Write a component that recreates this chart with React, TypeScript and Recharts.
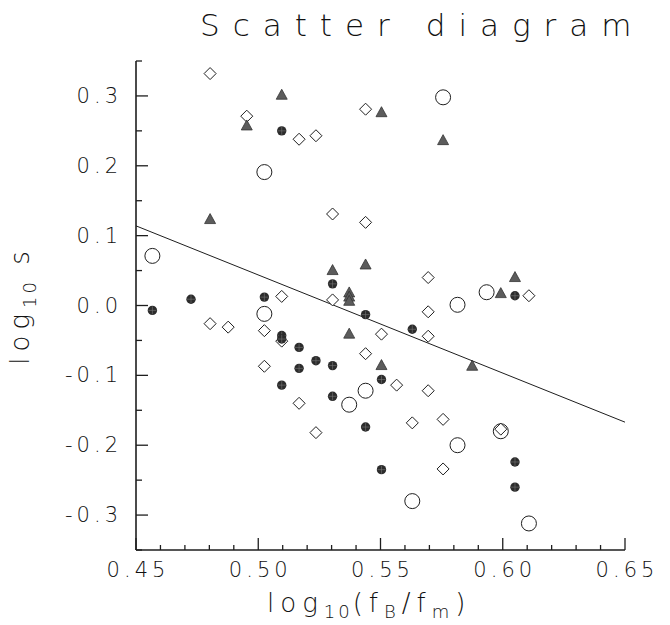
import React from 'react';
import { ScatterChart, Scatter, XAxis, YAxis } from 'recharts';

// log10(fB/fm) vs log10 s, four groups of points
const openCircles = [
  [0.4567, 0.071], [0.5025, 0.191], [0.5025, -0.012], [0.5756, 0.298],
  [0.5372, -0.142], [0.5439, -0.122], [0.5934, 0.019], [0.5815, 0.001],
  [0.5815, -0.2], [0.5992, -0.18], [0.563, -0.28], [0.6107, -0.312],
];

const diamonds = [
  [0.4803, 0.332], [0.4953, 0.271], [0.5167, 0.238], [0.5236, 0.243],
  [0.5439, 0.281], [0.5304, 0.131], [0.5439, 0.119], [0.4803, -0.026],
  [0.4877, -0.031], [0.5096, 0.013], [0.5025, -0.036], [0.5096, -0.051],
  [0.5025, -0.087], [0.5167, -0.14], [0.5566, -0.114], [0.5304, 0.008],
  [0.5504, -0.041], [0.5439, -0.069], [0.5695, 0.04], [0.6107, 0.014],
  [0.5695, -0.009], [0.5695, -0.044], [0.5695, -0.122], [0.563, -0.168],
  [0.5756, -0.163], [0.5992, -0.177], [0.5756, -0.234], [0.5236, -0.182],
];

const filledCircles = [
  [0.4567, -0.007], [0.4725, 0.009], [0.5096, 0.25], [0.5025, 0.012],
  [0.5096, -0.043], [0.5096, -0.048], [0.5167, -0.06], [0.5167, -0.09],
  [0.5236, -0.079], [0.5304, -0.086], [0.5096, -0.114], [0.5304, -0.13],
  [0.5304, 0.031], [0.5439, -0.013], [0.5504, -0.106], [0.5439, -0.174],
  [0.5504, -0.235], [0.563, -0.034], [0.605, 0.014], [0.605, -0.224],
  [0.605, -0.26],
];

const triangles = [
  [0.4803, 0.123], [0.4953, 0.257], [0.5096, 0.301], [0.5504, 0.276],
  [0.5756, 0.236], [0.5304, 0.05], [0.5439, 0.058], [0.5372, 0.018],
  [0.5372, 0.012], [0.5372, 0.006], [0.5372, -0.041], [0.5504, -0.086],
  [0.605, 0.04], [0.5992, 0.017], [0.5875, -0.087],
];

// fitted straight line, end points read at the frame edges
const fitLine = [[0.45, 0.114], [0.65, -0.167]];

const xMajorTicks = [0.45, 0.5, 0.55, 0.6, 0.65];
const xMinorTicks = [0.46, 0.47, 0.48, 0.49, 0.51, 0.52, 0.53, 0.54, 0.56, 0.57, 0.58, 0.59, 0.61, 0.62, 0.63, 0.64];
const yMajorTicks = [-0.3, -0.2, -0.1, 0, 0.1, 0.2, 0.3];
const yMinorTicks = [-0.35, -0.25, -0.15, -0.05, 0.05, 0.15, 0.25, 0.35];

const xTicks = [...xMajorTicks, ...xMinorTicks].sort((a, b) => a - b);
const yTicks = [...yMajorTicks, ...yMinorTicks].sort((a, b) => a - b);

const toPoints = (arr: number[][]) => arr.map(([x, y]) => ({ x, y }));

const INK = '#1e1e1e';
const FONT = '"DejaVu Sans", sans-serif';

const isMajor = (list: number[], v: number) => list.some((t) => Math.abs(t - v) < 1e-9);

const fmtY = (v: number) => (Math.abs(v) < 1e-9 ? '0.0' : v.toFixed(1));

const BottomTick = ({ x, y, payload }: any) => {
  const major = isMajor(xMajorTicks, payload.value);
  return (
    <g>
      <line x1={x} x2={x} y1={y} y2={y - (major ? 12 : 5)} stroke={INK} strokeWidth={1.3} />
      {major && (
        <text x={x + 2} y={y + 27} textAnchor="middle" fontSize={21} fontFamily={FONT} fontWeight={200}
          letterSpacing={4} fill="#111">
          {payload.value.toFixed(2)}
        </text>
      )}
    </g>
  );
};

const TopTick = ({ x, y, payload }: any) => {
  const major = isMajor(xMajorTicks, payload.value);
  return <line x1={x} x2={x} y1={y} y2={y + (major ? 12 : 5)} stroke={INK} strokeWidth={1.3} />;
};

const LeftTick = ({ x, y, payload }: any) => {
  const major = isMajor(yMajorTicks, payload.value);
  return (
    <g>
      <line x1={x} x2={x + (major ? 12 : 6)} y1={y} y2={y} stroke={INK} strokeWidth={1.3} />
      {major && (
        <text x={x - 14} y={y + 7} textAnchor="end" fontSize={21} fontFamily={FONT} fontWeight={200}
          letterSpacing={4} fill="#111">
          {fmtY(payload.value)}
        </text>
      )}
    </g>
  );
};

const RightTick = ({ x, y, payload }: any) => {
  const major = isMajor(yMajorTicks, payload.value);
  return <line x1={x} x2={x - (major ? 12 : 6)} y1={y} y2={y} stroke={INK} strokeWidth={1.3} />;
};

const OpenCircle = ({ cx, cy }: any) => (
  <circle cx={cx} cy={cy} r={7.5} fill="none" stroke={INK} strokeWidth={1} />
);

const Diamond = ({ cx, cy }: any) => (
  <path d={`M${cx},${cy - 6}L${cx + 6},${cy}L${cx},${cy + 6}L${cx - 6},${cy}Z`} fill="#fff" stroke={INK} strokeWidth={1} />
);

const FilledCircle = ({ cx, cy }: any) => (
  <g>
    <circle cx={cx} cy={cy} r={4.7} fill="#2c2c2c" />
    <line x1={cx - 4} x2={cx + 4} y1={cy} y2={cy} stroke="#777" strokeWidth={0.6} />
    <line x1={cx} x2={cx} y1={cy - 4} y2={cy + 4} stroke="#777" strokeWidth={0.6} />
  </g>
);

const Triangle = ({ cx, cy }: any) => (
  <path d={`M${cx},${cy - 6}L${cx + 5.5},${cy + 4}L${cx - 5.5},${cy + 4}Z`} fill="#5c5c5c" stroke="#333" strokeWidth={0.8} />
);

const NoShape = () => <g />;

export default function App() {
  return (
    <div style={{ position: 'absolute', left: 0, top: 0, width: 670, height: 625, background: '#fff' }}>
      <ScatterChart width={670} height={625} margin={{ top: 61, right: 45, bottom: 45, left: 76 }}>
        <XAxis xAxisId="b" dataKey="x" type="number" domain={[0.45, 0.65]} ticks={xTicks} interval={0}
          orientation="bottom" height={30} tickSize={0} tickMargin={0} tickLine={false}
          axisLine={{ stroke: INK, strokeWidth: 1.6 }} tick={<BottomTick />} allowDataOverflow />
        <XAxis xAxisId="t" dataKey="x" type="number" domain={[0.45, 0.65]} ticks={xTicks} interval={0}
          orientation="top" height={0} tickSize={0} tickMargin={0} tickLine={false}
          axisLine={{ stroke: INK, strokeWidth: 1.6 }} tick={<TopTick />} allowDataOverflow />
        <YAxis yAxisId="l" dataKey="y" type="number" domain={[-0.35, 0.35]} ticks={yTicks} interval={0}
          orientation="left" width={60} tickSize={0} tickMargin={0} tickLine={false}
          axisLine={{ stroke: INK, strokeWidth: 1.6 }} tick={<LeftTick />} allowDataOverflow />
        <YAxis yAxisId="r" dataKey="y" type="number" domain={[-0.35, 0.35]} ticks={yTicks} interval={0}
          orientation="right" width={0} tickSize={0} tickMargin={0} tickLine={false}
          axisLine={{ stroke: INK, strokeWidth: 1.6 }} tick={<RightTick />} allowDataOverflow />

        <Scatter xAxisId="b" yAxisId="l" data={toPoints(fitLine)} line={{ stroke: INK, strokeWidth: 1 }}
          shape={<NoShape />} isAnimationActive={false} />
        <Scatter xAxisId="b" yAxisId="l" data={toPoints(openCircles)} shape={<OpenCircle />} isAnimationActive={false} />
        <Scatter xAxisId="b" yAxisId="l" data={toPoints(diamonds)} shape={<Diamond />} isAnimationActive={false} />
        <Scatter xAxisId="b" yAxisId="l" data={toPoints(triangles)} shape={<Triangle />} isAnimationActive={false} />
        <Scatter xAxisId="b" yAxisId="l" data={toPoints(filledCircles)} shape={<FilledCircle />} isAnimationActive={false} />
      </ScatterChart>

      <div style={{ position: 'absolute', left: 200, top: 7, fontFamily: FONT, fontWeight: 200, fontSize: 31,
        letterSpacing: 13, color: '#111', whiteSpace: 'nowrap', lineHeight: '36px' }}>
        Scatter diagram
      </div>

      <div style={{ position: 'absolute', left: 267, top: 588, fontFamily: FONT, fontWeight: 200, fontSize: 26,
        letterSpacing: 6, color: '#111', whiteSpace: 'nowrap', lineHeight: '30px' }}>
        log<sub style={{ fontSize: 18, letterSpacing: 3 }}>10</sub>(f<sub style={{ fontSize: 18 }}>B</sub>/f<sub style={{ fontSize: 18 }}>m</sub>)
      </div>

      <div style={{ position: 'absolute', left: 25, top: 305, width: 0, height: 0 }}>
        <div style={{ position: 'absolute', transform: 'translate(-50%, -50%) rotate(-90deg)', fontFamily: FONT,
          fontWeight: 200, fontSize: 26, letterSpacing: 6, color: '#111', whiteSpace: 'nowrap', lineHeight: '30px' }}>
          log<sub style={{ fontSize: 18, letterSpacing: 3 }}>10</sub> s
        </div>
      </div>
    </div>
  );
}
